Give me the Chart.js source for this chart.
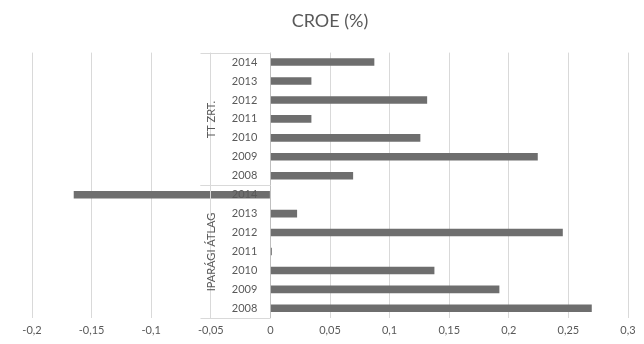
<!DOCTYPE html>
<html>
<head>
<meta charset="utf-8">
<script src="https://cdn.jsdelivr.net/npm/chart.js@4.4.1/dist/chart.umd.min.js"></script>
<style>
  html, body { margin: 0; padding: 0; background: #fff; }
  #wrap { width: 644px; height: 344px; }
</style>
</head>
<body>
<div id="wrap"><canvas id="croeChart"></canvas></div>
<script>
// Groups (bottom to top) and the years inside each group
const groups = ['IPARÁGI ÁTLAG', 'TT ZRT.'];
const years = ['2008', '2009', '2010', '2011', '2012', '2013', '2014'];

// CROE values, same order as years
const iparagiAtlag = [0.2696, 0.1921, 0.1376, 0.0012, 0.2453, 0.0224, -0.165];
const ttZrt = [0.0694, 0.2243, 0.1258, 0.0344, 0.1315, 0.0344, 0.0872];

const labels = groups.flatMap(() => years);
const values = iparagiAtlag.concat(ttZrt);

const textColor = '#595959';
const gridColor = '#d9d9d9';
const fontFamily = 'Lato, "Open Sans", sans-serif';

// Draws the outer level of the category axis (group names and separators)
const groupAxis = {
  id: 'groupAxis',
  afterDraw(chart) {
    const { ctx, scales: { x, y } } = chart;
    const axisX = Math.round(x.getPixelForValue(0)) + 0.5;
    const half = Math.abs(y.getPixelForValue(1) - y.getPixelForValue(0)) / 2;
    const lineX = axisX - 60;
    const leftX = axisX - 70;

    ctx.save();
    ctx.strokeStyle = gridColor;
    ctx.lineWidth = 1;
    ctx.font = '11px ' + fontFamily;
    ctx.fillStyle = textColor;

    groups.forEach((name, g) => {
      const first = g * years.length;
      const last = first + years.length - 1;
      const bottom = Math.round(y.getPixelForValue(first) + half) + 0.5;
      const top = Math.round(y.getPixelForValue(last) - half) + 0.5;
      const mid = (top + bottom) / 2;
      const w = ctx.measureText(name).width;

      ctx.beginPath();
      ctx.moveTo(leftX, top); ctx.lineTo(axisX, top);
      ctx.moveTo(leftX, bottom); ctx.lineTo(axisX, bottom);
      ctx.moveTo(lineX, top); ctx.lineTo(lineX, mid - w / 2 - 3);
      ctx.moveTo(lineX, mid + w / 2 + 3); ctx.lineTo(lineX, bottom);
      ctx.stroke();

      ctx.save();
      ctx.translate(lineX + 1, mid);
      ctx.rotate(-Math.PI / 2);
      ctx.textAlign = 'center';
      ctx.textBaseline = 'middle';
      ctx.fillText(name, 0, 0);
      ctx.restore();
    });
    ctx.restore();
  }
};

new Chart(document.getElementById('croeChart'), {
  type: 'bar',
  data: {
    labels: labels,
    datasets: [{
      label: 'CROE (%)',
      data: values,
      backgroundColor: '#6e6e6e',
      borderWidth: 0,
      barPercentage: 0.4,
      categoryPercentage: 1
    }]
  },
  options: {
    indexAxis: 'y',
    responsive: true,
    maintainAspectRatio: false,
    animation: false,
    layout: { padding: { left: 32, right: 16, top: 10, bottom: 1 } },
    plugins: {
      legend: { display: false },
      tooltip: { enabled: false },
      title: {
        display: true,
        text: 'CROE (%)',
        color: textColor,
        font: { family: fontFamily, size: 18, weight: 'normal' },
        padding: { top: 0, bottom: 21 }
      }
    },
    scales: {
      x: {
        min: -0.2,
        max: 0.3,
        border: { display: false },
        grid: {
          drawTicks: false,
          color: c => Math.abs(c.tick.value) < 1e-9 ? '#bfbfbf' : gridColor
        },
        ticks: {
          stepSize: 0.05,
          padding: 6,
          color: textColor,
          font: { family: fontFamily, size: 11 },
          callback: v => String(Math.round(v * 100) / 100).replace('.', ',')
        }
      },
      y: {
        type: 'category',
        reverse: true,
        position: { x: -0.011 },
        border: { display: false },
        grid: { display: false, drawTicks: false },
        ticks: {
          z: 1,
          autoSkip: false,
          color: textColor,
          font: { family: fontFamily, size: 11 }
        }
      }
    }
  },
  plugins: [groupAxis]
});
</script>
</body>
</html>
